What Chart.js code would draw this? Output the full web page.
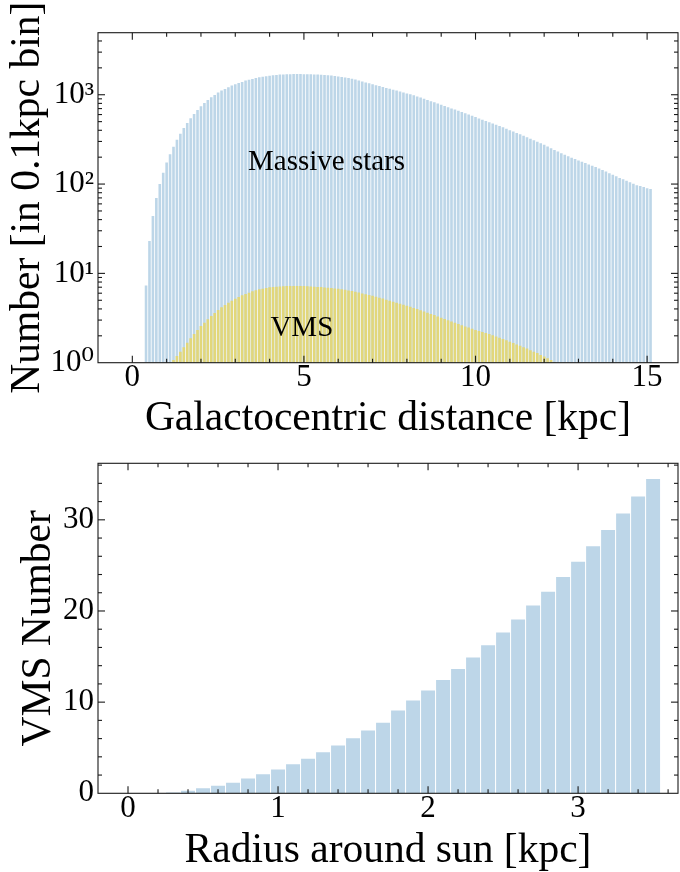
<!DOCTYPE html>
<html>
<head>
<meta charset="utf-8">
<script src="https://cdn.jsdelivr.net/npm/chart.js@4.4.0/dist/chart.umd.min.js"></script>
<style>
html,body{margin:0;padding:0;background:#fff;}
#wrap{position:relative;width:680px;height:872px;background:#fff;}
canvas{position:absolute;left:0;}
</style>
</head>
<body>
<div id="wrap">
<canvas id="topChart" width="680" height="445" style="top:0px"></canvas>
<canvas id="botChart" width="680" height="436" style="top:436px"></canvas>
</div>
<script>
// ---------- DATA ----------
// Top panel: bin centres [kpc] and counts per 0.1 kpc bin
const massiveBins = [0.4,0.5,0.6,0.7,0.8,0.9,
 1.0,1.1,1.2,1.3,1.4,1.5,1.6,1.7,1.8,1.9,
 2.0,2.1,2.2,2.3,2.4,2.5,2.6,2.7,2.8,2.9,
 3.0,3.1,3.2,3.3,3.4,3.5,3.6,3.7,3.8,3.9,
 4.0,4.1,4.2,4.3,4.4,4.5,4.6,4.7,4.8,4.9,
 5.0,5.1,5.2,5.3,5.4,5.5,5.6,5.7,5.8,5.9,
 6.0,6.1,6.2,6.3,6.4,6.5,6.6,6.7,6.8,6.9,
 7.0,7.1,7.2,7.3,7.4,7.5,7.6,7.7,7.8,7.9,
 8.0,8.1,8.2,8.3,8.4,8.5,8.6,8.7,8.8,8.9,
 9.0,9.1,9.2,9.3,9.4,9.5,9.6,9.7,9.8,9.9,
 10.0,10.1,10.2,10.3,10.4,10.5,10.6,10.7,10.8,10.9,
 11.0,11.1,11.2,11.3,11.4,11.5,11.6,11.7,11.8,11.9,
 12.0,12.1,12.2,12.3,12.4,12.5,12.6,12.7,12.8,12.9,
 13.0,13.1,13.2,13.3,13.4,13.5,13.6,13.7,13.8,13.9,
 14.0,14.1,14.2,14.3,14.4,14.5,14.6,14.7,14.8,14.9,
 15.0,15.1];
const massiveCounts = [7.3,23,44,70,100,134,
 174,216,262,314,367,425,483,545,610,676,
 743,809,875,937,995,1057,1112,1162,1214,1265,
 1311,1356,1390,1439,1476,1503,1542,1570,1595,1611,
 1636,1652,1667,1680,1685,1695,1700,1702,1703,1702,
 1700,1698,1695,1690,1683,1675,1663,1656,1644,1626,
 1603,1581,1560,1538,1510,1479,1445,1409,1374,1343,
 1312,1279,1250,1219,1191,1164,1138,1112,1084,1059,
 1035,1012,986,957,929,902,875,847,822,798,
 773,748,726,703,682,661,640,619,600,581,
 562,543,525,508,492,476,461,446,432,416,
 401,387,373,361,348,335,322,310,298,286,
 275,263,251,240,231,221,213,205,197,191,
 184,178,172,166,160,155,149,144,138,132,
 127,122,117,113,109,105,101,97,95,92.5,
 90,88];
const vmsBins = [1.2,1.3,1.4,1.5,1.6,1.7,1.8,1.9,
 2.0,2.1,2.2,2.3,2.4,2.5,2.6,2.7,2.8,2.9,
 3.0,3.1,3.2,3.3,3.4,3.5,3.6,3.7,3.8,3.9,
 4.0,4.1,4.2,4.3,4.4,4.5,4.6,4.7,4.8,4.9,
 5.0,5.1,5.2,5.3,5.4,5.5,5.6,5.7,5.8,5.9,
 6.0,6.1,6.2,6.3,6.4,6.5,6.6,6.7,6.8,6.9,
 7.0,7.1,7.2,7.3,7.4,7.5,7.6,7.7,7.8,7.9,
 8.0,8.1,8.2,8.3,8.4,8.5,8.6,8.7,8.8,8.9,
 9.0,9.1,9.2,9.3,9.4,9.5,9.6,9.7,9.8,9.9,
 10.0,10.1,10.2,10.3,10.4,10.5,10.6,10.7,10.8,10.9,
 11.0,11.1,11.2,11.3,11.4,11.5,11.6,11.7,11.8,11.9,
 12.0,12.1,12.2,12.3];
const vmsCounts = [1.07,1.19,1.33,1.49,1.67,1.88,2.1,2.32,
 2.58,2.8,3.06,3.33,3.6,3.89,4.17,4.43,4.7,4.94,
 5.21,5.44,5.69,5.88,6.08,6.3,6.46,6.63,6.74,6.87,
 6.99,7.05,7.1,7.15,7.18,7.2,7.22,7.23,7.23,7.22,
 7.2,7.17,7.14,7.1,7.06,7.02,6.97,6.92,6.86,6.79,
 6.72,6.65,6.55,6.44,6.33,6.21,6.09,5.97,5.85,5.72,
 5.6,5.48,5.35,5.22,5.08,4.95,4.82,4.7,4.58,4.46,
 4.34,4.22,4.1,3.98,3.86,3.74,3.63,3.52,3.41,3.3,
 3.19,3.09,2.99,2.89,2.8,2.71,2.63,2.55,2.47,2.4,
 2.33,2.27,2.21,2.15,2.09,2.03,1.97,1.9,1.84,1.78,
 1.72,1.66,1.6,1.55,1.49,1.44,1.38,1.33,1.28,1.22,
 1.17,1.12,1.07,1.02];
// Bottom panel: radius around the sun [kpc] and VMS number
const localBins = [0.0,0.1,0.2,0.3,0.4,0.5,0.6,0.7,0.8,0.9,
 1.0,1.1,1.2,1.3,1.4,1.5,1.6,1.7,1.8,1.9,
 2.0,2.1,2.2,2.3,2.4,2.5,2.6,2.7,2.8,2.9,
 3.0,3.1,3.2,3.3,3.4,3.5];
const localCounts = [0,0,0,0.1,0.29,0.55,0.84,1.17,1.61,2.08,
 2.6,3.18,3.8,4.5,5.23,6.04,6.88,7.75,9.07,10.17,
 11.27,12.44,13.64,14.89,16.24,17.63,19.06,20.6,22.1,23.74,
 25.39,27.1,28.87,30.7,32.56,34.47];
// Tick values and labels
const topXTicks = [0,5,10,15];
const topYTicks = [1,10,100,1000];
const topYTickLabels = ['10\u2070','10\u00B9','10\u00B2','10\u00B3'];
const botXTicks = [0,1,2,3];
const botYTicks = [0,10,20,30];
// Text labels
const topXTitle = 'Galactocentric distance [kpc]';
const topYTitle = 'Number [in 0.1kpc bin]';
const botXTitle = 'Radius around sun [kpc]';
const botYTitle = 'VMS Number';
const massiveLabel = 'Massive stars';
const vmsLabel = 'VMS';

// ---------- STYLE ----------
const FONT = "'Liberation Serif', 'DejaVu Serif', serif";
const BLUE = 'rgb(189,214,232)';
const YELLOW = 'rgb(226,215,122)';
const INK = '#000';

// minor tick helpers (positions only)
function stepMinors(min, max, step, majorEvery) {
  const out = [];
  const n0 = Math.ceil(min / step - 1e-9), n1 = Math.floor(max / step + 1e-9);
  for (let n = n0; n <= n1; n++) {
    const v = +(n * step).toFixed(6);
    if (Math.abs(v / majorEvery - Math.round(v / majorEvery)) < 1e-6) continue;
    out.push(v);
  }
  return out;
}
function logMinors(min, max) {
  const out = [];
  for (let k = Math.floor(Math.log10(min)); k <= Math.ceil(Math.log10(max)); k++) {
    for (let m = 2; m <= 9; m++) { const v = m * Math.pow(10, k); if (v > min && v < max) out.push(v); }
  }
  return out;
}

const mplAxes = {
  id: 'mplAxes',
  afterDraw(chart, args, o) {
    const {ctx, chartArea: a} = chart;
    const xs = chart.scales.x, ys = chart.scales.y;
    ctx.save();
    ctx.strokeStyle = '#1a1a1a';
    ctx.lineWidth = 1.1;
    const seg = (x1, y1, x2, y2) => { ctx.beginPath(); ctx.moveTo(x1, y1); ctx.lineTo(x2, y2); ctx.stroke(); };
    const xt = (v, len) => {
      const p = xs.getPixelForValue(v);
      if (p < a.left + 1.5 || p > a.right - 1.5) return;
      seg(p, a.bottom, p, a.bottom - len); seg(p, a.top, p, a.top + len);
    };
    const yt = (v, len) => {
      const p = ys.getPixelForValue(v);
      if (p < a.top + 1.5 || p > a.bottom - 1.5) return;
      seg(a.left, p, a.left + len, p); seg(a.right, p, a.right - len, p);
    };
    o.xMajor.forEach(v => xt(v, 7));
    o.xMinor.forEach(v => xt(v, 4));
    o.yMajor.forEach(v => yt(v, 7));
    o.yMinor.forEach(v => yt(v, 4));
    ctx.strokeRect(a.left, a.top, a.right - a.left, a.bottom - a.top);
    ctx.fillStyle = INK;
    ctx.textAlign = 'center';
    ctx.textBaseline = 'middle';
    (o.texts || []).forEach(t => {
      ctx.font = t.size + 'px ' + FONT;
      ctx.fillText(t.text, xs.getPixelForValue(t.x), ys.getPixelForValue(t.y));
    });
    ctx.restore();
  }
};

function tickFont() { return {family: FONT, size: 31, lineHeight: 1}; }
function titleFont() { return {family: FONT, size: 41.5, lineHeight: 1}; }

// ---------- TOP CHART ----------
const TOP_H = 445, TOP_PLOT_TOP = 32.7, TOP_PLOT_BOTTOM = 362.7;
new Chart(document.getElementById('topChart'), {
  type: 'bar',
  data: {
    datasets: [
      {label: vmsLabel, data: vmsBins.map((b, i) => ({x: b, y: vmsCounts[i]})),
       backgroundColor: YELLOW, grouped: false, order: 0, barPercentage: 0.76, categoryPercentage: 1},
      {label: massiveLabel, data: massiveBins.map((b, i) => ({x: b, y: massiveCounts[i]})),
       backgroundColor: BLUE, grouped: false, order: 1, barPercentage: 0.76, categoryPercentage: 1}
    ]
  },
  options: {
    responsive: false, animation: false, devicePixelRatio: 1,
    layout: {autoPadding: false, padding: {top: TOP_PLOT_TOP, right: 2, left: 0, bottom: 0}},
    plugins: {
      legend: {display: false}, tooltip: {enabled: false},
      mplAxes: {
        xMajor: topXTicks, xMinor: stepMinors(-1, 15.9, 1, 5),
        yMajor: topYTicks, yMinor: logMinors(1, 4950),
        texts: [{text: massiveLabel, x: 5.66, y: 177, size: 29}, {text: vmsLabel, x: 4.94, y: 2.45, size: 29}]
      }
    },
    scales: {
      x: {
        type: 'linear', min: -1, max: 15.9, offset: false,
        grid: {display: false, drawTicks: false}, border: {display: false},
        afterBuildTicks: s => { s.ticks = topXTicks.map(v => ({value: v})); },
        afterFit: s => { s.height = TOP_H - TOP_PLOT_BOTTOM; },
        ticks: {font: tickFont(), color: INK, padding: 0, maxRotation: 0, autoSkip: false, callback: v => String(v)},
        title: {display: true, text: topXTitle, font: titleFont(), color: INK, padding: {top: 0, bottom: 5}}
      },
      y: {
        type: 'logarithmic', min: 1, max: 4950,
        grid: {display: false, drawTicks: false}, border: {display: false},
        afterBuildTicks: s => { s.ticks = topYTicks.map(v => ({value: v})); },
        afterFit: s => { s.width = 98; },
        ticks: {font: tickFont(), color: INK, padding: 4, autoSkip: false,
                callback: (v, i) => topYTickLabels[topYTicks.indexOf(v)]},
        title: {display: true, text: topYTitle, font: titleFont(), color: INK, padding: {top: 7.5, bottom: 0}}
      }
    }
  },
  plugins: [mplAxes]
});

// ---------- BOTTOM CHART ----------
const BOT_H = 436, BOT_PLOT_TOP = 27.3, BOT_PLOT_BOTTOM = 357.3;
new Chart(document.getElementById('botChart'), {
  type: 'bar',
  data: {
    datasets: [
      {label: botYTitle, data: localBins.map((b, i) => ({x: b, y: localCounts[i]})),
       backgroundColor: BLUE, grouped: false, barPercentage: 0.93, categoryPercentage: 1}
    ]
  },
  options: {
    responsive: false, animation: false, devicePixelRatio: 1,
    layout: {autoPadding: false, padding: {top: BOT_PLOT_TOP, right: 2, left: 0, bottom: 0}},
    plugins: {
      legend: {display: false}, tooltip: {enabled: false},
      mplAxes: {
        xMajor: botXTicks, xMinor: stepMinors(-0.2, 3.666, 0.2, 1),
        yMajor: botYTicks, yMinor: stepMinors(0, 36.2, 2, 10),
        texts: []
      }
    },
    scales: {
      x: {
        type: 'linear', min: -0.2, max: 3.666, offset: false,
        grid: {display: false, drawTicks: false}, border: {display: false},
        afterBuildTicks: s => { s.ticks = botXTicks.map(v => ({value: v})); },
        afterFit: s => { s.height = BOT_H - BOT_PLOT_BOTTOM; },
        ticks: {font: tickFont(), color: INK, padding: 0, maxRotation: 0, autoSkip: false, callback: v => String(v)},
        title: {display: true, text: botXTitle, font: titleFont(), color: INK, padding: {top: 0, bottom: 0}}
      },
      y: {
        type: 'linear', min: 0, max: 36.2,
        grid: {display: false, drawTicks: false}, border: {display: false},
        afterBuildTicks: s => { s.ticks = botYTicks.map(v => ({value: v})); },
        afterFit: s => { s.width = 98; },
        ticks: {font: tickFont(), color: INK, padding: 4, autoSkip: false, callback: v => String(v)},
        title: {display: true, text: botYTitle, font: titleFont(), color: INK, padding: {top: 18.5, bottom: 0}}
      }
    }
  },
  plugins: [mplAxes]
});
</script>
</body>
</html>
